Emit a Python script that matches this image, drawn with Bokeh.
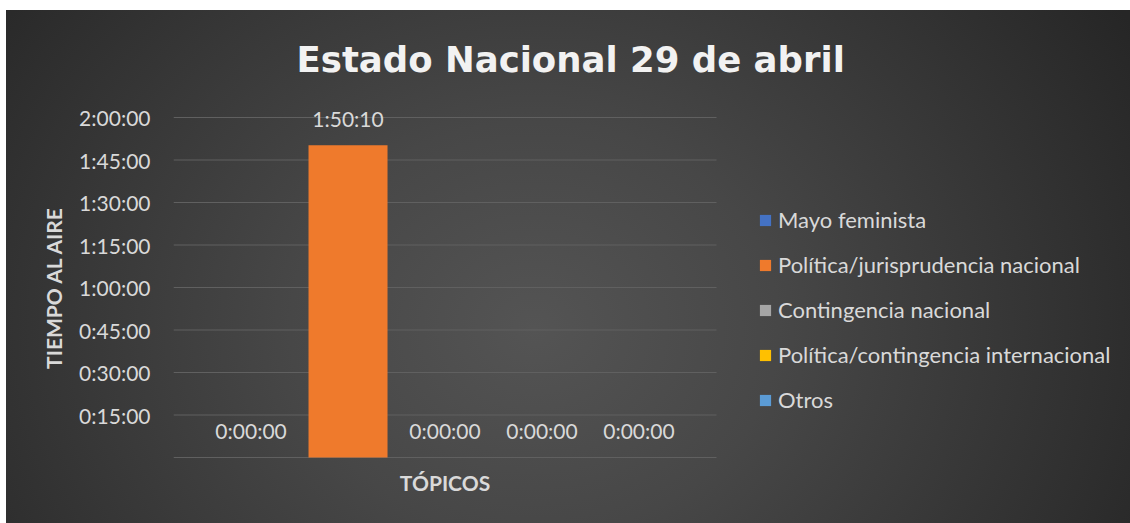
from bokeh.plotting import figure
from bokeh.models import (Range1d, FixedTicker, Title, Legend,
                          LegendItem, ColumnDataSource)
from bokeh.transform import dodge
from bokeh.core.properties import value
from bokeh.embed import file_html
from bokeh.resources import INLINE

# ---------------- data ----------------
title_text = "Estado Nacional 29 de abril"
x_title = "TÓPICOS"
y_title = "TIEMPO AL AIRE"
category = ["Tópicos"]
series = ["Mayo feminista", "Política/jurisprudencia nacional",
          "Contingencia nacional", "Política/contingencia internacional", "Otros"]
values_sec = [0, 6610, 0, 0, 0]          # seconds on air
colors = ["#4472C4", "#EF7A2C", "#A5A5A5", "#FFC000", "#5B9BD5"]
y_ticks_sec = [0, 900, 1800, 2700, 3600, 4500, 5400, 6300, 7200]
y_tick_labels = ["", "0:15:00", "0:30:00", "0:45:00", "1:00:00",
                 "1:15:00", "1:30:00", "1:45:00", "2:00:00"]


def hms(s):
    return f"{s // 3600}:{(s % 3600) // 60:02d}:{s % 60:02d}"


# ---------------- layout ----------------
W, H = 1130, 523
LEFT, TOP, BOTTOM_EDGE = 173, 97, 477
ZERO_PX, GRID_TOP = 457, 117
CAT_W = 543                      # pixel width of the category band
px_per_sec = (ZERO_PX - GRID_TOP) / 7200
y_start = -(BOTTOM_EDGE - ZERO_PX) / px_per_sec
y_end = (ZERO_PX - TOP) / px_per_sec
x_end = -0.5 + (W - LEFT) / CAT_W

FONT = "Lato"
TXT = "#d9d9d9"

p = figure(width=W, height=H, output_backend="svg", toolbar_location=None,
           x_range=Range1d(-0.5, x_end), y_range=Range1d(y_start, y_end))
p.min_border_left = LEFT
p.min_border_top = TOP
p.min_border_right = 0
p.min_border_bottom = H - BOTTOM_EDGE
p.background_fill_color = None
p.border_fill_color = None
p.outline_line_color = None
p.styles = {"background": "radial-gradient(ellipse 62% 115% at 47% 62%, #545454 0%, "
                          "#474747 35%, #262626 100%) 6px 10px / calc(100% - 6px) "
                          "calc(100% - 10px) no-repeat, #ffffff"}

# horizontal gridlines limited to the category band
cat_idx = list(range(len(category)))
p.segment(x0=[cat_idx[0] - 0.5] * len(y_ticks_sec), x1=[cat_idx[-1] + 0.5] * len(y_ticks_sec),
          y0=y_ticks_sec, y1=y_ticks_sec, line_color="#606060", line_width=1)

step = 0.1786
bw = 0.1455
items = []
for i, (name, v, c) in enumerate(zip(series, values_sec, colors)):
    src = ColumnDataSource(dict(pos=cat_idx, val=[v], lbl=[hms(v)]))
    off = (i - 2) * step
    r = p.vbar(x=dodge("pos", off), top="val", width=bw,
               source=src, fill_color=c, line_color=None)
    p.text(x=dodge("pos", off), y="val", text="lbl", source=src,
           text_align="center", text_baseline="middle", y_offset=-27,
           text_font=value(FONT), text_font_size="21px", text_color=TXT)
    items.append(LegendItem(label=name, renderers=[r]))

legend = Legend(items=items, location=(585, 64), padding=0, margin=0,
                spacing=18, label_height=22, glyph_height=14, glyph_width=14,
                label_standoff=6, background_fill_alpha=0, border_line_color=None,
                label_text_font=FONT, label_text_font_size="22px",
                label_text_color=TXT)
p.add_layout(legend)

# y axis
ya = p.yaxis[0]
ya.ticker = FixedTicker(ticks=y_ticks_sec)
ya.major_label_overrides = {t: l for t, l in zip(y_ticks_sec, y_tick_labels)}
ya.axis_line_color = None
ya.major_tick_line_color = None
ya.major_tick_out = 0
ya.major_tick_in = 0
ya.minor_tick_line_color = None
ya.major_label_standoff = 23
ya.major_label_text_font = FONT
ya.major_label_text_font_size = "21px"
ya.major_label_text_color = TXT
ya.axis_label = y_title
ya.axis_label_text_font = FONT
ya.axis_label_text_font_style = "bold"
ya.axis_label_text_font_size = "21px"
ya.axis_label_text_color = TXT
ya.axis_label_standoff = 10

# x axis: the axis title is centred on the category band
xa = p.xaxis[0]
xa.ticker = FixedTicker(ticks=cat_idx)
xa.major_label_overrides = {cat_idx[0]: x_title}
xa.axis_line_color = None
xa.major_tick_line_color = None
xa.major_tick_out = 0
xa.major_tick_in = 0
xa.minor_tick_line_color = None
xa.major_label_standoff = -8
xa.major_label_text_font = FONT
xa.major_label_text_font_style = "bold"
xa.major_label_text_font_size = "21px"
xa.major_label_text_color = TXT

p.xgrid.visible = False
p.ygrid.visible = False

title = Title(text=title_text, align="left", offset=123, standoff=35,
              text_font="DejaVu Sans", text_font_style="bold",
              text_font_size="35.5px", text_color="#f2f2f2")
p.add_layout(title, "above")

open("out.html", "w").write(file_html(p, INLINE))
